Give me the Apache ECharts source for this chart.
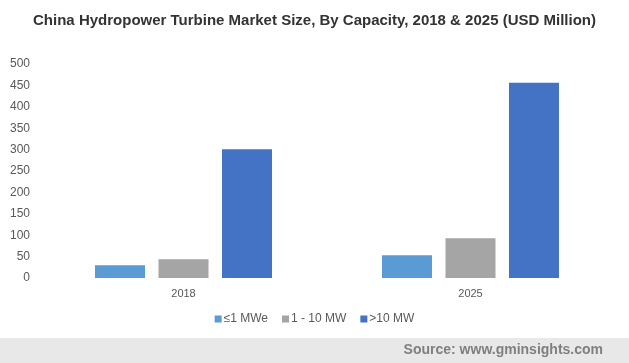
<!DOCTYPE html>
<html>
<head>
<meta charset="utf-8">
<script src="https://cdn.jsdelivr.net/npm/echarts@6/dist/echarts.min.js"></script>
<style>html,body{margin:0;padding:0;background:#fff;}#c{width:629px;height:363px;}</style>
</head>
<body>
<div id="c"></div>
<script>
const categories = ['2018', '2025'];
const seriesNames = ['≤1 MWe', '1 - 10 MW', '>10 MW'];
const smallValues = [30, 53];
const midValues = [44, 93];
const largeValues = [301, 456];
const yTicks = [0, 50, 100, 150, 200, 250, 300, 350, 400, 450, 500];
const colors = ['#5B9BD5', '#A5A5A5', '#4472C4'];

const chart = echarts.init(document.getElementById('c'));
const font = 'Liberation Sans, Arial, sans-serif';
chart.setOption({
  animation: false,
  title: {
    text: 'China Hydropower Turbine Market Size, By Capacity, 2018 & 2025 (USD Million)',
    left: 'center', top: 8,
    textStyle: { fontFamily: font, fontSize: 15, fontWeight: 'bold', color: '#333333' }
  },
  legend: {
    bottom: 33, left: 'center',
    itemWidth: 7, itemHeight: 7, itemGap: 14,
    icon: 'rect',
    textStyle: { fontFamily: font, fontSize: 12, color: '#595959', padding: [0, 0, 0, -3] },
    data: seriesNames
  },
  grid: { left: 40, right: 15, top: 64, bottom: 85, containLabel: false },
  xAxis: {
    type: 'category', data: categories,
    axisLine: { show: false }, axisTick: { show: false },
    axisLabel: { fontFamily: font, fontSize: 11, color: '#595959', margin: 10 }
  },
  yAxis: {
    type: 'value', min: yTicks[0], max: yTicks[yTicks.length - 1], interval: 50,
    splitLine: { show: false }, axisLine: { show: false }, axisTick: { show: false },
    axisLabel: { fontFamily: font, fontSize: 12, color: '#595959', margin: 10 }
  },
  graphic: [
    { type: 'rect', left: 0, top: 338, shape: { width: 629, height: 25 }, style: { fill: '#E8E8E8' }, silent: true },
    { type: 'text', right: 26, top: 343, style: { text: 'Source: www.gminsights.com', font: 'bold 14px ' + font, fill: '#7F7F7F' } }
  ],
  series: [
    { name: seriesNames[0], type: 'bar', data: smallValues, barWidth: 50, barGap: '27%', itemStyle: { color: colors[0] } },
    { name: seriesNames[1], type: 'bar', data: midValues, barWidth: 50, barGap: '27%', itemStyle: { color: colors[1] } },
    { name: seriesNames[2], type: 'bar', data: largeValues, barWidth: 50, barGap: '27%', itemStyle: { color: colors[2] } }
  ]
});
</script>
</body>
</html>
